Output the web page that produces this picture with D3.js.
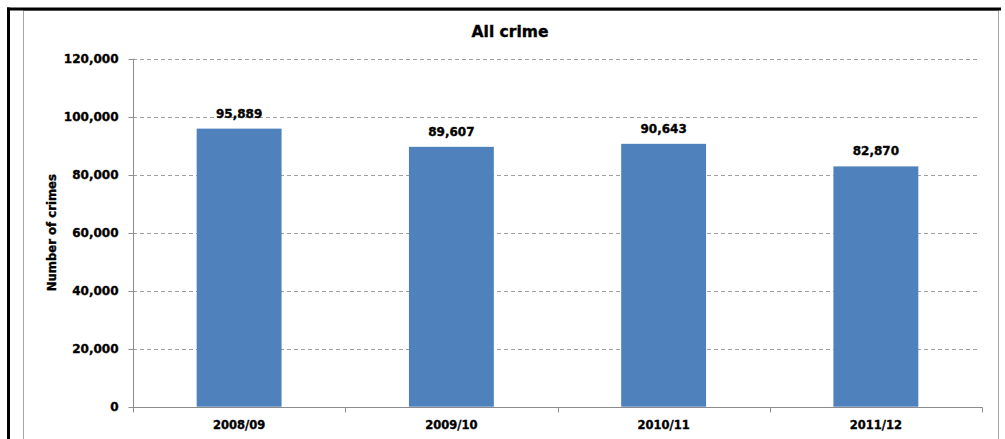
<!DOCTYPE html>
<html>
<head>
<meta charset="utf-8">
<script src="https://cdn.jsdelivr.net/npm/d3@7/dist/d3.min.js"></script>
<style>
  html, body { margin: 0; padding: 0; background: #fff; }
  svg { display: block; }
  text { font-family: "DejaVu Sans", sans-serif; font-weight: bold; fill: #000; stroke: #000; stroke-width: 0.35px; }
</style>
</head>
<body>
<script>
// Recorded crime totals by financial year
const years = ["2008/09", "2009/10", "2010/11", "2011/12"];
const crimes = [95889, 89607, 90643, 82870];
const yTicks = [0, 20000, 40000, 60000, 80000, 100000, 120000];
const chartTitle = "All crime";
const yTitle = "Number of crimes";

const W = 1005, H = 439;
const svg = d3.select("body").append("svg").attr("width", W).attr("height", H);

// outer frame: heavy black rule on top and left, light grey chart border inside
svg.append("rect").attr("x", 23.5).attr("y", 10.5).attr("width", 975).attr("height", H)
  .attr("fill", "#fff").attr("stroke", "#a6a6a6").attr("stroke-width", 1);
svg.append("rect").attr("x", 7).attr("y", 7.5).attr("width", 994).attr("height", 3).attr("fill", "#000");
svg.append("rect").attr("x", 7).attr("y", 7.5).attr("width", 3).attr("height", H).attr("fill", "#000");

const plot = { left: 133, right: 982, top: 58.7, bottom: 406.7 };

const x = d3.scaleBand().domain(years).range([plot.left, plot.right])
  .paddingInner(0.6).paddingOuter(0.3);
const y = d3.scaleLinear().domain([0, 120000]).range([plot.bottom, plot.top]);
const fmt = d3.format(",");

// dashed gridlines
svg.append("g").selectAll("line").data(yTicks.filter(d => d > 0)).join("line")
  .attr("x1", plot.left).attr("x2", 980)
  .attr("y1", d => Math.round(y(d)) + 0.5).attr("y2", d => Math.round(y(d)) + 0.5)
  .attr("stroke", "#a0a0a0").attr("stroke-width", 1).attr("stroke-dasharray", "4,3");

// bars
svg.append("g").selectAll("rect").data(crimes).join("rect")
  .attr("x", (d, i) => x(years[i]))
  .attr("width", x.bandwidth())
  .attr("y", d => y(d))
  .attr("height", d => y(0) - y(d))
  .attr("fill", "#4f81bd");

// value labels
svg.append("g").selectAll("text").data(crimes).join("text")
  .attr("x", (d, i) => x(years[i]) + x.bandwidth() / 2)
  .attr("y", d => y(d) - 11)
  .attr("text-anchor", "middle")
  .style("font-size", "12px")
  .text(d => fmt(d));

// y axis
const yAxis = svg.append("g").attr("transform", `translate(${plot.left + 0.5},0)`)
  .call(d3.axisLeft(y).tickValues(yTicks).tickFormat(fmt).tickSize(5).tickPadding(10).tickSizeOuter(0));
yAxis.select(".domain").attr("stroke", "#8c8c8c").attr("d", `M0,${plot.top}V${plot.bottom + 4}`);
yAxis.selectAll(".tick line").attr("stroke", "#8c8c8c");
yAxis.selectAll(".tick").attr("transform", d => `translate(0,${Math.round(y(d)) + 0.5})`);
yAxis.selectAll(".tick text").style("font-size", "12px").style("font-family", null).attr("fill", "#000");

// x axis with ticks between categories
const xAxisG = svg.append("g").attr("transform", `translate(0,${Math.round(plot.bottom) + 0.5})`);
xAxisG.append("line").attr("x1", plot.left).attr("x2", plot.right + 0.5)
  .attr("stroke", "#8c8c8c");
const boundaries = d3.range(years.length + 1).map(i => plot.left + i * x.step());
xAxisG.selectAll("line.tick").data(boundaries).join("line").attr("class", "tick")
  .attr("x1", d => Math.round(d) + 0.5).attr("x2", d => Math.round(d) + 0.5)
  .attr("y1", 0).attr("y2", 5).attr("stroke", "#8c8c8c");
xAxisG.selectAll("text").data(years).join("text")
  .attr("x", d => x(d) + x.bandwidth() / 2)
  .attr("y", 21.5)
  .attr("text-anchor", "middle")
  .style("font-size", "11.5px")
  .text(d => d);

// titles
svg.append("text").attr("x", 510).attr("y", 36.5).attr("text-anchor", "middle")
  .style("font-size", "15.5px").text(chartTitle);
svg.append("text")
  .attr("transform", `translate(56,${(plot.top + plot.bottom) / 2}) rotate(-90)`)
  .attr("text-anchor", "middle")
  .style("font-size", "11.7px").text(yTitle);
</script>
</body>
</html>
